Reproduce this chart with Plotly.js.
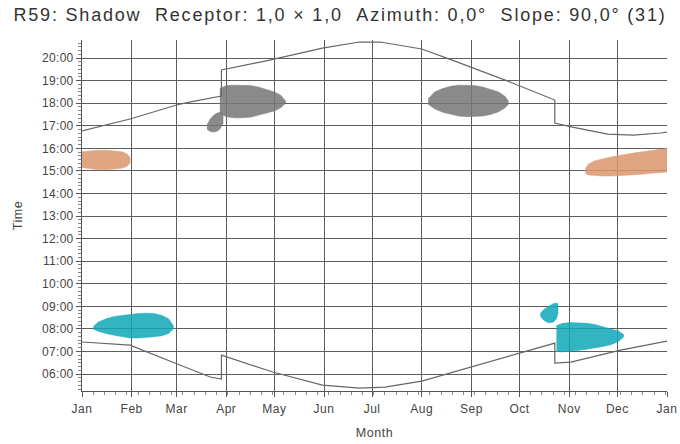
<!DOCTYPE html>
<html>
<head>
<meta charset="utf-8">
<script src="https://cdn.plot.ly/plotly-3.0.1.min.js"></script>
<style>
html,body{margin:0;padding:0;background:#fff;}
#chart{width:680px;height:444px;}
#chart .gtitle{letter-spacing:1.8px;}
#chart .xtitle,#chart .ytitle{letter-spacing:0.6px;}
#chart .xtick text{letter-spacing:0.5px;}
#chart .ytick text{letter-spacing:0.3px;}
</style>
</head>
<body>
<div id="chart"></div>
<script>
// Month ticks (day of year)
const monthDays = [0, 31, 59, 90, 120, 151, 181, 212, 243, 273, 304, 334, 365];
const monthLabels = ["Jan","Feb","Mar","Apr","May","Jun","Jul","Aug","Sep","Oct","Nov","Dec","Jan"];
const hourVals = [6,7,8,9,10,11,12,13,14,15,16,17,18,19,20];
const hourLabels = ["06:00","07:00","08:00","09:00","10:00","11:00","12:00","13:00","14:00","15:00","16:00","17:00","18:00","19:00","20:00"];

// Sunset line (day of year, hours)
const sunsetDay  = [0, 30, 59, 67, 87, 87, 117, 150, 173, 186, 212, 231, 267, 295, 295, 306, 328, 344, 361, 365];
const sunsetTime = [16.77, 17.30, 17.92, 18.05, 18.32, 19.47, 19.91, 20.44, 20.71, 20.71, 20.40, 19.91, 18.94, 18.14, 17.12, 16.94, 16.63, 16.59, 16.68, 16.72];

// Sunrise line
const sunriseDay  = [0, 30, 61, 80, 87, 87, 119, 150, 173, 189, 212, 242, 273, 295, 295, 305, 336, 365];
const sunriseTime = [7.42, 7.28, 6.40, 5.87, 5.78, 6.84, 6.09, 5.51, 5.38, 5.42, 5.69, 6.31, 6.93, 7.37, 6.49, 6.53, 7.06, 7.46];

// Shadow periods: day, shadow end (top), shadow start (bottom)
const grayA_day = [86, 90, 95, 100, 105, 110, 115, 120, 124, 127];
const grayA_top = [18.65, 18.78, 18.8, 18.8, 18.78, 18.72, 18.62, 18.5, 18.35, 18.1];
const grayA_bot = [17.55, 17.4, 17.35, 17.35, 17.38, 17.45, 17.55, 17.65, 17.8, 18.0];

const grayB_day = [78, 80, 82, 84, 86, 88];
const grayB_top = [17.05, 17.3, 17.45, 17.55, 17.6, 17.55];
const grayB_bot = [16.85, 16.75, 16.72, 16.75, 16.85, 17.1];

const grayC_day = [216, 220, 225, 230, 235, 240, 245, 250, 255, 260, 264, 266];
const grayC_top = [18.2, 18.5, 18.65, 18.75, 18.8, 18.8, 18.78, 18.72, 18.62, 18.5, 18.3, 18.1];
const grayC_bot = [17.95, 17.75, 17.6, 17.5, 17.43, 17.4, 17.4, 17.43, 17.5, 17.62, 17.8, 17.95];

const orangeA_day = [0, 5, 10, 15, 20, 25, 28, 30];
const orangeA_top = [15.85, 15.9, 15.92, 15.92, 15.9, 15.85, 15.75, 15.6];
const orangeA_bot = [15.15, 15.1, 15.05, 15.05, 15.07, 15.12, 15.2, 15.35];

const orangeB_day = [314, 316, 320, 325, 330, 335, 340, 345, 350, 355, 360, 365];
const orangeB_top = [15.1, 15.3, 15.45, 15.55, 15.62, 15.68, 15.75, 15.8, 15.85, 15.9, 15.95, 16.0];
const orangeB_bot = [14.9, 14.82, 14.78, 14.77, 14.77, 14.78, 14.8, 14.83, 14.86, 14.9, 14.93, 14.95];

const cyanA_day = [7, 10, 15, 20, 25, 30, 35, 40, 45, 50, 54, 57];
const cyanA_top = [8.1, 8.3, 8.45, 8.55, 8.6, 8.65, 8.68, 8.7, 8.68, 8.6, 8.45, 8.15];
const cyanA_bot = [8.0, 7.9, 7.8, 7.72, 7.65, 7.6, 7.6, 7.62, 7.65, 7.7, 7.8, 8.0];

const cyanB_day = [296, 300, 305, 310, 315, 320, 325, 330, 335, 338];
const cyanB_top = [8.15, 8.25, 8.28, 8.28, 8.25, 8.2, 8.1, 8.0, 7.9, 7.75];
const cyanB_bot = [7.0, 6.98, 7.0, 7.05, 7.1, 7.15, 7.22, 7.3, 7.45, 7.65];

const cyanC_day = [286, 288, 290, 292, 294, 296, 297];
const cyanC_top = [8.7, 8.85, 8.95, 9.05, 9.12, 9.15, 9.1];
const cyanC_bot = [8.55, 8.4, 8.3, 8.27, 8.3, 8.45, 8.7];

const GRAY = "rgba(117,117,117,0.85)";
const ORANGE = "rgba(219,150,108,0.85)";
const CYAN = "rgba(14,167,184,0.85)";

function blob(days, top, bot, color) {
  const x = days.concat(days.slice().reverse());
  const y = top.concat(bot.slice().reverse());
  return {x: x, y: y, type: "scatter", mode: "lines", fill: "toself",
          fillcolor: color, line: {width: 0.5, color: color}, hoverinfo: "skip", showlegend: false};
}

const traces = [
  blob(grayA_day, grayA_top, grayA_bot, GRAY),
  blob(grayB_day, grayB_top, grayB_bot, GRAY),
  blob(grayC_day, grayC_top, grayC_bot, GRAY),
  blob(orangeA_day, orangeA_top, orangeA_bot, ORANGE),
  blob(orangeB_day, orangeB_top, orangeB_bot, ORANGE),
  blob(cyanA_day, cyanA_top, cyanA_bot, CYAN),
  blob(cyanB_day, cyanB_top, cyanB_bot, CYAN),
  blob(cyanC_day, cyanC_top, cyanC_bot, CYAN),
  {x: sunsetDay, y: sunsetTime, type: "scatter", mode: "lines", line: {color: "#666", width: 1.2}, showlegend: false},
  {x: sunriseDay, y: sunriseTime, type: "scatter", mode: "lines", line: {color: "#666", width: 1.2}, showlegend: false}
];

const layout = {
  width: 680, height: 444,
  margin: {l: 82, r: 13, t: 40, b: 53},
  paper_bgcolor: "#fff", plot_bgcolor: "#fff",
  font: {family: "Liberation Sans, Arial, sans-serif", color: "#444"},
  title: {text: "R59: Shadow\u00a0\u00a0Receptor: 1,0 \u00d7 1,0\u00a0\u00a0Azimuth: 0,0\u00b0\u00a0\u00a0Slope: 90,0\u00b0 (31)",
          x: 0.5, xref: "container", xanchor: "center", y: 0.968, yref: "container", yanchor: "middle",
          font: {size: 18, color: "#333", family: "Liberation Sans, Arial, sans-serif"}},
  showlegend: false,
  xaxis: {
    range: [0, 365], tickmode: "array", tickvals: monthDays, ticktext: monthLabels,
    showgrid: true, gridcolor: "#5e5e5e", gridwidth: 1, zeroline: false,
    showline: true, linecolor: "#555", linewidth: 1,
    ticks: "outside", ticklen: 5, tickcolor: "#555",
    minor: {ticks: "outside", ticklen: 3, tick0: 0, dtick: 7, tickcolor: "#888", showgrid: false},
    tickfont: {size: 12, color: "#444"}, ticklabelstandoff: 2,
    title: {text: "Month", font: {size: 12.5, color: "#444"}, standoff: 12},
    fixedrange: true
  },
  yaxis: {
    range: [5.25, 20.8], tickmode: "array", tickvals: hourVals, ticktext: hourLabels,
    showgrid: true, gridcolor: "#5e5e5e", gridwidth: 1, zeroline: false,
    showline: true, linecolor: "#555", linewidth: 1,
    ticks: "outside", ticklen: 5, tickcolor: "#555",
    minor: {ticks: "outside", ticklen: 3, tick0: 0, dtick: 1/6, tickcolor: "#888", showgrid: false},
    tickfont: {size: 12, color: "#444"},
    title: {text: "Time", font: {size: 12.5, color: "#444"}, standoff: 18},
    fixedrange: true
  }
};

Plotly.newPlot("chart", traces, layout, {staticPlot: true, displayModeBar: false});
</script>
</body>
</html>
